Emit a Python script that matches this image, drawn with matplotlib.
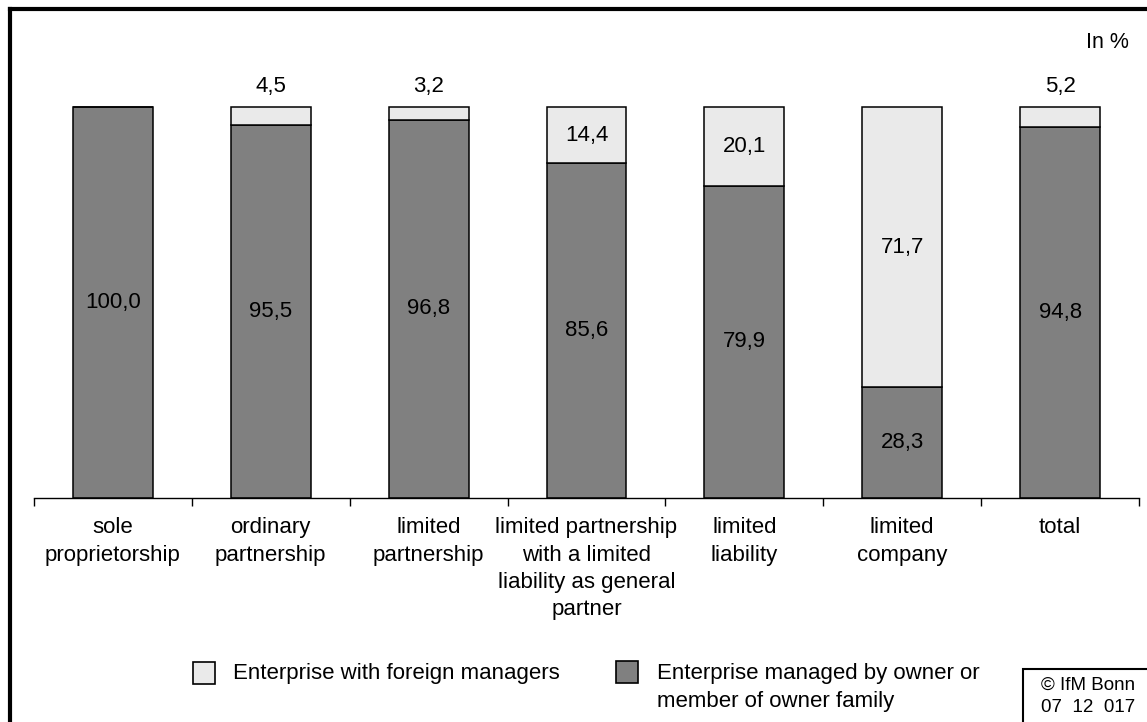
import numpy as np
import matplotlib
matplotlib.use("Agg")
import matplotlib.pyplot as plt
from matplotlib.patches import Rectangle
from matplotlib.lines import Line2D

plt.rcParams['font.family'] = ['Liberation Sans', 'DejaVu Sans']

# data
categories = ["sole\nproprietorship", "ordinary\npartnership", "limited\npartnership",
              "limited partnership\nwith a limited\nliability as general\npartner",
              "limited\nliability", "limited\ncompany", "total"]
owner_managed = [100.0, 95.5, 96.8, 85.6, 79.9, 28.3, 94.8]
foreign_managed = [0.0, 4.5, 3.2, 14.4, 20.1, 71.7, 5.2]
legend_labels = ["Enterprise with foreign managers",
                 "Enterprise managed by owner or\nmember of owner family"]

dark = '#808080'
light = '#EAEAEA'

W, H = 1147, 722
fig = plt.figure(figsize=(W / 100, H / 100), dpi=100)

# axes placed in pixel terms of the reference
x0, x1, y_base, y_top = 34, 1139, 498, 30
ax = fig.add_axes([x0 / W, 1 - y_base / H, (x1 - x0) / W, (y_base - y_top) / H])
x = np.arange(len(categories))
bw = 0.505

ax.bar(x, owner_managed, bw, color=dark, edgecolor='black', linewidth=1.1)
ax.bar(x, foreign_managed, bw, bottom=owner_managed, color=light,
       edgecolor='black', linewidth=1.1)

ax.set_xlim(-0.5, len(categories) - 0.5)
ax.set_ylim(0, (y_base - y_top) / 391 * 100)

def fmt(v):
    return f"{v:.1f}".replace('.', ',')

for i, (o, f) in enumerate(zip(owner_managed, foreign_managed)):
    ax.text(i, o / 2, fmt(o), ha='center', va='center', fontsize=16)
    if f <= 0:
        continue
    if f < 10:
        ax.annotate(fmt(f), (i, o + f), xytext=(0, 14.5), textcoords='offset points',
                    ha='center', va='center', fontsize=16)
    else:
        ax.text(i, o + f / 2, fmt(f), ha='center', va='center', fontsize=16)

# ticks at category boundaries, labels at centres
ax.set_xticks(np.arange(-0.5, len(categories), 1.0))
ax.set_xticklabels([])
ax.set_xticks(x, minor=True)
ax.set_xticklabels(categories, minor=True, fontsize=16, linespacing=1.38)
ax.tick_params(axis='x', which='major', length=5.5, width=1, direction='out')
ax.tick_params(axis='x', which='minor', length=0, pad=14)
ax.set_yticks([])
for s in ['top', 'right', 'left']:
    ax.spines[s].set_visible(False)
ax.spines['bottom'].set_linewidth(1)

fig.text(1129 / W, 1 - 43 / H, "In %", ha='right', va='center', fontsize=15.5)

# legend drawn by hand
def px(xp, yp):
    return xp / W, 1 - yp / H

for (sx, sy, col, lab, tx) in [(193, 662, light, legend_labels[0], 233),
                               (616, 661, dark, legend_labels[1], 657)]:
    fig.patches.append(Rectangle(px(sx, sy + 22), 22 / W, 22 / H, transform=fig.transFigure,
                                 facecolor=col, edgecolor='black', linewidth=1.2))
    for j, line in enumerate(lab.split('\n')):
        fig.text(tx / W, 1 - (673 + 28 * j) / H, line, ha='left', va='center', fontsize=16)

# copyright box
fig.patches.append(Rectangle(px(1023, 730), 140 / W, 61 / H, transform=fig.transFigure,
                             facecolor='white', edgecolor='black', linewidth=1.5))
fig.text(1088 / W, 1 - 685 / H, "© IfM Bonn", ha='center', va='center', fontsize=13.5)
fig.text(1088 / W, 1 - 708 / H, "07  12  017", ha='center', va='center', fontsize=13.5)

# frame lines on left and top
fig.add_artist(Line2D([9.5 / W, 9.5 / W], [0, 1 - 9 / H], transform=fig.transFigure,
                      color='black', linewidth=3, solid_capstyle='projecting'))
fig.add_artist(Line2D([9.5 / W, 1], [1 - 9 / H, 1 - 9 / H], transform=fig.transFigure,
                      color='black', linewidth=3, solid_capstyle='projecting'))

fig.savefig('out.png', dpi=100)
